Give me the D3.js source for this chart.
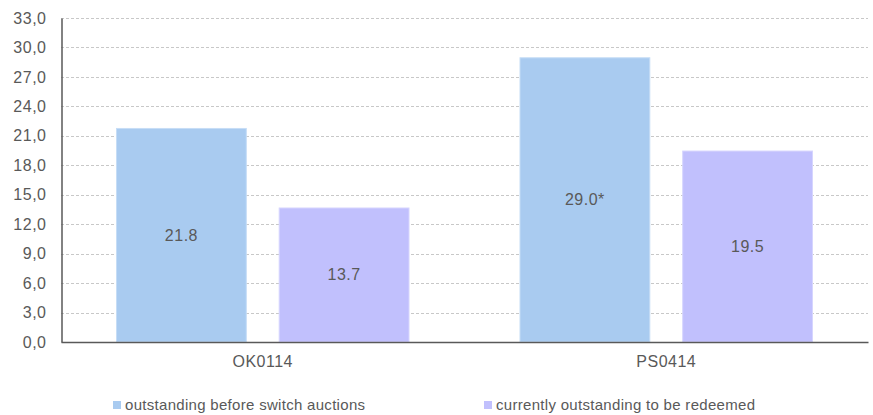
<!DOCTYPE html>
<html>
<head>
<meta charset="utf-8">
<script src="https://cdn.jsdelivr.net/npm/d3@7"></script>
<style>
  body { margin: 0; background: #fff; }
  svg { display: block; font-family: "Liberation Sans", Arial, sans-serif; }
</style>
</head>
<body>
<svg id="chart" width="873" height="415"></svg>
<script>
const categories = ["OK0114", "PS0414"];
const seriesNames = ["outstanding before switch auctions", "currently outstanding to be redeemed"];
const outstandingBefore = [21.8, 29.0];
const currentlyOutstanding = [13.7, 19.5];
const valueLabels = [["21.8", "29.0*"], ["13.7", "19.5"]];
const yTicks = [0, 3, 6, 9, 12, 15, 18, 21, 24, 27, 30, 33];
const colors = ["#A9CBF0", "#C1C0FD"];
const strokes = ["#C6DDF6", "#D6D5FE"];

const svg = d3.select("#chart");
const margin = { left: 61, right: 5, top: 18, bottom: 73 };
const W = 873, H = 415;
const textColor = "#595959";

const x0 = d3.scaleBand().domain(categories).range([margin.left, W - margin.right]).paddingInner(0).paddingOuter(0);
const x1 = d3.scaleBand().domain([0, 1]).range([55, x0.bandwidth() - 55]).paddingInner(0.196);
const y = d3.scaleLinear().domain([0, 33]).range([H - margin.bottom, margin.top]);

// gridlines
svg.append("g").selectAll("line").data(yTicks.filter(t => t > 0)).join("line")
  .attr("x1", margin.left).attr("x2", W - margin.right)
  .attr("y1", d => Math.round(y(d)) + 0.5).attr("y2", d => Math.round(y(d)) + 0.5)
  .attr("stroke", "#C8C8C8").attr("stroke-width", 1).attr("stroke-dasharray", "3,2");

// bars with centred value labels
const series = [outstandingBefore, currentlyOutstanding];
const groups = svg.append("g").selectAll("g").data(categories).join("g")
  .attr("transform", d => `translate(${x0(d)},0)`);

groups.each(function(cat, ci) {
  const g = d3.select(this);
  series.forEach((vals, si) => {
    const v = vals[ci];
    g.append("rect")
      .attr("x", x1(si) + 0.5).attr("y", y(v) + 0.5)
      .attr("width", x1.bandwidth() - 1).attr("height", y(0) - y(v) - 0.5)
      .attr("fill", colors[si]).attr("stroke", strokes[si]).attr("stroke-width", 1);
    g.append("text")
      .attr("x", x1(si) + x1.bandwidth() / 2)
      .attr("y", (y(v) + y(0)) / 2)
      .attr("dy", "0.35em")
      .attr("text-anchor", "middle")
      .attr("font-size", 16).attr("letter-spacing", 0.5).attr("fill", textColor)
      .text(valueLabels[si][ci]);
  });
});

// y axis
const yAxis = d3.axisLeft(y).tickValues(yTicks).tickSize(0).tickPadding(15)
  .tickFormat(d => d3.format(".1f")(d).replace(".", ","));
const ya = svg.append("g").attr("transform", `translate(${margin.left + 0.5},0)`).call(yAxis);
ya.select(".domain").attr("stroke", textColor).attr("stroke-width", 1.5);
ya.selectAll("text").attr("font-size", 16).attr("letter-spacing", 0.5).attr("fill", textColor)
  .attr("font-family", "Liberation Sans, Arial, sans-serif");

// x axis
const xAxis = d3.axisBottom(x0).tickSize(0).tickPadding(14);
const xa = svg.append("g").attr("transform", `translate(0,${y(0)})`).call(xAxis);
xa.select(".domain").attr("stroke", textColor).attr("stroke-width", 1.5);
xa.selectAll("text").attr("font-size", 16).attr("letter-spacing", 0.5).attr("fill", textColor)
  .attr("font-family", "Liberation Sans, Arial, sans-serif");

// legend
const legendX = [113, 484];
const legend = svg.append("g").selectAll("g").data(seriesNames).join("g")
  .attr("transform", (d, i) => `translate(${legendX[i]},401)`);
legend.append("rect").attr("width", 8).attr("height", 8).attr("fill", (d, i) => colors[i]);
legend.append("text").attr("x", 12).attr("y", 4).attr("dy", "0.35em")
  .attr("font-size", 15).attr("letter-spacing", 0.3).attr("fill", textColor).text(d => d);
</script>
</body>
</html>
